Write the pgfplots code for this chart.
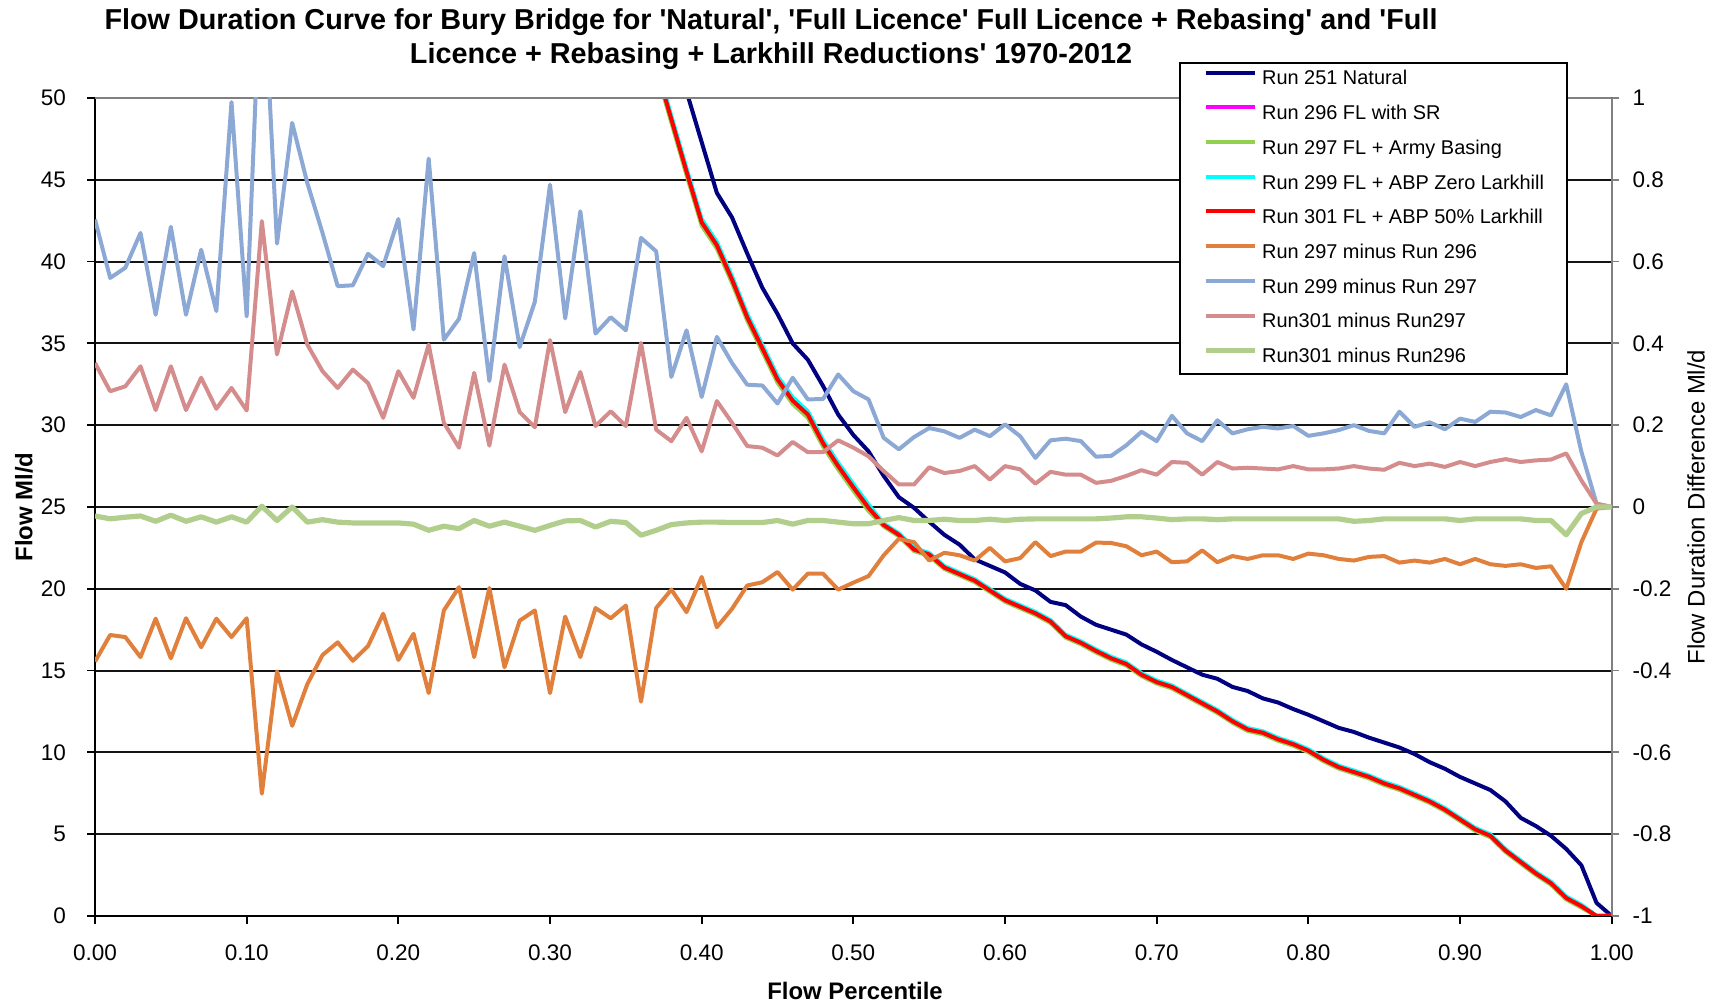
\documentclass[border=0pt]{standalone}
\usepackage{fontspec}
\setmainfont{Liberation Sans}
\usepackage{pgfplots}
\usepackage{pgfplotstable}
\pgfplotsset{compat=1.18}
\definecolor{cnavy}{RGB}{0,0,128}
\definecolor{cmag}{RGB}{255,0,255}
\definecolor{clgreen}{RGB}{146,208,80}
\definecolor{ccyan}{RGB}{0,255,255}
\definecolor{cred}{RGB}{255,0,0}
\definecolor{corng}{RGB}{224,128,60}
\definecolor{clblue}{RGB}{140,168,212}
\definecolor{cpink}{RGB}{212,140,140}
\definecolor{csage}{RGB}{178,206,140}

\pgfplotstableread{
x nat r296 r297 r299 r301
0.35 64.5 59.03 58.8 59.2 59.0
0.36 61.0 55.53 55.3 55.7 55.5
0.37 57.5 51.93 51.7 52.1 51.9
0.38 54.0 48.73 48.5 48.9 48.7
0.39 50.4 45.53 45.3 45.7 45.5
0.40 47.3 42.43 42.2 42.6 42.4
0.41 44.2 41.03 40.8 41.2 41.0
0.42 42.7 38.93 38.7 39.1 38.9
0.43 40.5 36.63 36.4 36.8 36.6
0.44 38.4 34.73 34.5 34.9 34.7
0.45 36.8 32.83 32.6 33.0 32.8
0.46 35.0 31.53 31.3 31.7 31.5
0.47 34.0 30.68 30.45 30.85 30.65
0.48 32.4 28.93 28.7 29.1 28.9
0.49 30.65 27.53 27.3 27.7 27.5
0.50 29.4 26.23 26.0 26.4 26.2
0.51 28.4 24.98 24.75 25.15 24.95
0.52 26.9 23.93 23.81 23.99 23.9
0.53 25.6 23.33 23.21 23.39 23.3
0.54 24.95 22.43 22.31 22.49 22.4
0.55 24.1 22.13 22.01 22.19 22.1
0.56 23.3 21.33 21.21 21.39 21.3
0.57 22.7 20.93 20.81 20.99 20.9
0.58 21.8 20.53 20.41 20.59 20.5
0.59 21.4 19.93 19.81 19.99 19.9
0.60 21.0 19.33 19.21 19.39 19.3
0.61 20.3 18.93 18.81 18.99 18.9
0.62 19.9 18.53 18.41 18.59 18.5
0.63 19.2 18.03 17.91 18.09 18.0
0.64 19.0 17.13 17.01 17.19 17.1
0.65 18.3 16.73 16.61 16.79 16.7
0.66 17.8 16.23 16.11 16.29 16.2
0.67 17.5 15.78 15.66 15.84 15.75
0.68 17.2 15.43 15.31 15.49 15.4
0.69 16.6 14.78 14.66 14.84 14.75
0.70 16.15 14.33 14.21 14.39 14.3
0.71 15.65 14.03 13.91 14.09 14.0
0.72 15.2 13.53 13.41 13.59 13.5
0.73 14.75 13.03 12.91 13.09 13.0
0.74 14.5 12.53 12.41 12.59 12.5
0.75 14.0 11.93 11.81 11.99 11.9
0.76 13.75 11.43 11.31 11.49 11.4
0.77 13.3 11.23 11.11 11.29 11.2
0.78 13.05 10.83 10.71 10.89 10.8
0.79 12.65 10.53 10.41 10.59 10.5
0.80 12.3 10.13 10.01 10.19 10.1
0.81 11.9 9.58 9.46 9.64 9.55
0.82 11.5 9.13 9.01 9.19 9.1
0.83 11.25 8.83 8.71 8.89 8.8
0.84 10.9 8.53 8.41 8.59 8.5
0.85 10.6 8.13 8.01 8.19 8.1
0.86 10.3 7.83 7.71 7.89 7.8
0.87 9.9 7.43 7.31 7.49 7.4
0.88 9.4 7.03 6.91 7.09 7.0
0.89 9.0 6.53 6.41 6.59 6.5
0.90 8.5 5.93 5.81 5.99 5.9
0.91 8.1 5.33 5.21 5.39 5.3
0.92 7.7 4.93 4.81 4.99 4.9
0.93 7.0 4.03 3.91 4.09 4.0
0.94 6.0 3.33 3.21 3.39 3.3
0.95 5.5 2.63 2.51 2.69 2.6
0.96 4.9 2.03 1.91 2.09 2.0
0.97 4.1 1.13 1.01 1.19 1.1
0.98 3.1 0.63 0.51 0.69 0.6
0.99 0.8 0.0 0.0 0.0 0.0
1.00 0.0 0.0 0.0 0.0 0.0
}\flow

\pgfplotstableread{
x o b p g
0.00 -0.378 0.703 0.352 -0.022
0.01 -0.313 0.560 0.283 -0.029
0.02 -0.318 0.585 0.295 -0.025
0.03 -0.367 0.670 0.344 -0.022
0.04 -0.273 0.470 0.237 -0.035
0.05 -0.370 0.685 0.344 -0.020
0.06 -0.272 0.470 0.237 -0.035
0.07 -0.343 0.629 0.316 -0.024
0.08 -0.273 0.479 0.240 -0.037
0.09 -0.318 0.990 0.291 -0.024
0.10 -0.272 0.466 0.236 -0.037
0.11 -0.701 1.380 0.699 0.002
0.12 -0.402 0.644 0.373 -0.033
0.13 -0.535 0.939 0.527 0.000
0.14 -0.433 0.792 0.397 -0.037
0.15 -0.362 0.670 0.332 -0.031
0.16 -0.331 0.540 0.291 -0.037
0.17 -0.376 0.542 0.336 -0.039
0.18 -0.340 0.619 0.303 -0.039
0.19 -0.261 0.589 0.218 -0.039
0.20 -0.374 0.704 0.332 -0.039
0.21 -0.310 0.434 0.267 -0.042
0.22 -0.455 0.852 0.397 -0.057
0.23 -0.253 0.409 0.206 -0.047
0.24 -0.196 0.460 0.145 -0.053
0.25 -0.367 0.621 0.328 -0.033
0.26 -0.198 0.308 0.150 -0.047
0.27 -0.392 0.613 0.348 -0.037
0.28 -0.278 0.391 0.232 -0.047
0.29 -0.253 0.502 0.195 -0.057
0.30 -0.455 0.788 0.408 -0.045
0.31 -0.268 0.461 0.232 -0.034
0.32 -0.367 0.723 0.330 -0.033
0.33 -0.247 0.424 0.198 -0.049
0.34 -0.272 0.464 0.234 -0.035
0.35 -0.241 0.432 0.198 -0.038
0.36 -0.476 0.658 0.401 -0.069
0.37 -0.247 0.625 0.189 -0.057
0.38 -0.202 0.318 0.161 -0.043
0.39 -0.257 0.432 0.218 -0.039
0.40 -0.171 0.269 0.136 -0.037
0.41 -0.294 0.416 0.259 -0.037
0.42 -0.249 0.352 0.206 -0.038
0.43 -0.192 0.299 0.149 -0.038
0.44 -0.184 0.297 0.145 -0.038
0.45 -0.159 0.253 0.126 -0.033
0.46 -0.202 0.316 0.159 -0.042
0.47 -0.163 0.263 0.134 -0.033
0.48 -0.163 0.264 0.134 -0.033
0.49 -0.202 0.324 0.163 -0.037
0.50 -0.185 0.283 0.145 -0.041
0.51 -0.169 0.263 0.124 -0.041
0.52 -0.118 0.169 0.088 -0.033
0.53 -0.078 0.141 0.055 -0.026
0.54 -0.086 0.171 0.055 -0.033
0.55 -0.131 0.193 0.097 -0.033
0.56 -0.112 0.185 0.083 -0.030
0.57 -0.118 0.169 0.088 -0.033
0.58 -0.131 0.189 0.100 -0.033
0.59 -0.100 0.173 0.067 -0.030
0.60 -0.133 0.202 0.100 -0.033
0.61 -0.125 0.173 0.092 -0.030
0.62 -0.086 0.120 0.057 -0.029
0.63 -0.120 0.163 0.086 -0.029
0.64 -0.109 0.167 0.079 -0.029
0.65 -0.109 0.161 0.079 -0.029
0.66 -0.087 0.123 0.059 -0.029
0.67 -0.088 0.125 0.064 -0.027
0.68 -0.096 0.151 0.076 -0.024
0.69 -0.118 0.184 0.090 -0.024
0.70 -0.109 0.161 0.079 -0.027
0.71 -0.135 0.223 0.110 -0.031
0.72 -0.133 0.180 0.108 -0.029
0.73 -0.106 0.161 0.079 -0.029
0.74 -0.135 0.212 0.110 -0.031
0.75 -0.120 0.180 0.094 -0.029
0.76 -0.127 0.190 0.096 -0.029
0.77 -0.118 0.196 0.094 -0.029
0.78 -0.118 0.192 0.092 -0.029
0.79 -0.127 0.198 0.100 -0.029
0.80 -0.114 0.174 0.092 -0.029
0.81 -0.118 0.180 0.092 -0.029
0.82 -0.127 0.188 0.094 -0.029
0.83 -0.131 0.200 0.100 -0.035
0.84 -0.122 0.186 0.094 -0.033
0.85 -0.120 0.180 0.091 -0.029
0.86 -0.136 0.233 0.108 -0.029
0.87 -0.131 0.196 0.100 -0.029
0.88 -0.136 0.207 0.106 -0.029
0.89 -0.127 0.190 0.098 -0.029
0.90 -0.140 0.216 0.110 -0.033
0.91 -0.127 0.208 0.100 -0.029
0.92 -0.140 0.233 0.110 -0.029
0.93 -0.144 0.231 0.117 -0.029
0.94 -0.140 0.220 0.110 -0.029
0.95 -0.149 0.237 0.114 -0.033
0.96 -0.145 0.224 0.116 -0.033
0.97 -0.200 0.300 0.131 -0.068
0.98 -0.086 0.135 0.065 -0.016
0.99 -0.004 0.008 0.008 0.000
1.00 0.000 0.000 0.000 0.000
}\diff

\pgfplotsset{
  /pgf/number format/assume math mode=true,
  base/.style={
    at={(47.5bp,44.5bp)}, anchor=south west,
    scale only axis, width=758.35bp, height=409bp,
    xmin=0, xmax=1,
    tick align=outside,
    major tick length=3.8bp,
    tick label style={font=\fontsize{11.3}{13}\selectfont},
    clip=true,
  },
}

\begin{document}
\begin{tikzpicture}
\path[use as bounding box] (0,0) rectangle (856bp,502.5bp);

\begin{axis}[base,
  ymin=0, ymax=50,
  axis x line*=bottom, axis y line*=left,
  axis line style={black, line width=1bp},
  xtick={0,0.1,0.2,0.3,0.4,0.5,0.6,0.7,0.8,0.9,1},
  ytick={0,5,10,15,20,25,30,35,40,45,50},
  xticklabel style={/pgf/number format/fixed, /pgf/number format/fixed zerofill, /pgf/number format/precision=2, anchor=center, inner sep=0pt, yshift=-14.5bp},
  yticklabel style={anchor=east, inner sep=0pt, xshift=-10.5bp},
  major tick style={black, line width=0.9bp},
  ymajorgrids,
  major grid style={black!92, line width=1bp},
]
\addplot[cnavy, line width=2bp, line join=round] table[x=x,y=nat]{\flow};
\addplot[cmag, line width=2bp, line join=round] table[x=x,y=r296]{\flow};
\addplot[clgreen, line width=2bp, line join=round] table[x=x,y=r297]{\flow};
\addplot[ccyan, line width=2bp, line join=round] table[x=x,y=r299]{\flow};
\addplot[cred, line width=2bp, line join=round] table[x=x,y=r301]{\flow};
\draw[black!50, line width=1.2bp] (rel axis cs:0,1) -- (rel axis cs:1,1);
\end{axis}

\begin{axis}[base,
  ymin=-1, ymax=1,
  axis x line=none, axis y line*=right,
  y axis line style={black!50, line width=1bp},
  ytick={-1,-0.8,-0.6,-0.4,-0.2,0,0.2,0.4,0.6,0.8,1},
  yticklabel style={anchor=west, inner sep=0pt, xshift=6.5bp},
  major tick style={black!50, line width=0.9bp},
  legend cell align=left,
  legend image code/.code={\draw[#1] (0bp,3.5bp) -- (24.5bp,3.5bp);},
  legend style={at={(0.7149,1.0436)}, anchor=north west, draw=black, line width=0.65bp, fill=white,
    font=\fontsize{10}{12}\selectfont, inner xsep=11.5bp, inner ysep=3.5bp,
    row sep=7.65bp, column sep=2.5bp,
    nodes={inner sep=0pt, text height=7.5bp, text depth=2.2bp}},
]
\addlegendimage{cnavy, line width=2bp}
\addlegendentry{Run 251 Natural}
\addlegendimage{cmag, line width=2bp}
\addlegendentry{Run 296 FL with SR}
\addlegendimage{clgreen, line width=2bp}
\addlegendentry{Run 297 FL + Army Basing}
\addlegendimage{ccyan, line width=2bp}
\addlegendentry{Run 299 FL + ABP Zero Larkhill}
\addlegendimage{cred, line width=2bp}
\addlegendentry{Run 301 FL + ABP 50\% Larkhill}
\addplot[corng, line width=2bp, line join=round] table[x=x,y=o]{\diff};
\addlegendentry{Run 297 minus Run 296}
\addplot[clblue, line width=2bp, line join=round] table[x=x,y=b]{\diff};
\addlegendentry{Run 299 minus Run 297}
\addplot[cpink, line width=2bp, line join=round] table[x=x,y=p]{\diff};
\addlegendentry{Run301 minus Run297}
\addplot[csage, line width=2.6bp, line join=round] table[x=x,y=g]{\diff};
\addlegendentry{Run301 minus Run296}
\end{axis}

\node[font=\bfseries\fontsize{14.45}{16}\selectfont, anchor=base] at (385.5bp,487.5bp) {Flow Duration Curve for Bury Bridge for \textquotesingle Natural\textquotesingle, \textquotesingle Full Licence\textquotesingle\ Full Licence + Rebasing\textquotesingle\ and \textquotesingle Full};
\node[font=\bfseries\fontsize{14.45}{16}\selectfont, anchor=base] at (385.5bp,470.7bp) {Licence + Rebasing + Larkhill Reductions\textquotesingle\ 1970-2012};
\node[font=\bfseries\fontsize{12}{14}\selectfont, rotate=90] at (12bp,249bp) {Flow Ml/d};
\node[font=\fontsize{12}{14}\selectfont, rotate=90] at (848bp,249bp) {Flow Duration Difference Ml/d};
\node[font=\bfseries\fontsize{12}{14}\selectfont] at (427.5bp,7bp) {Flow Percentile};
\end{tikzpicture}
\end{document}
